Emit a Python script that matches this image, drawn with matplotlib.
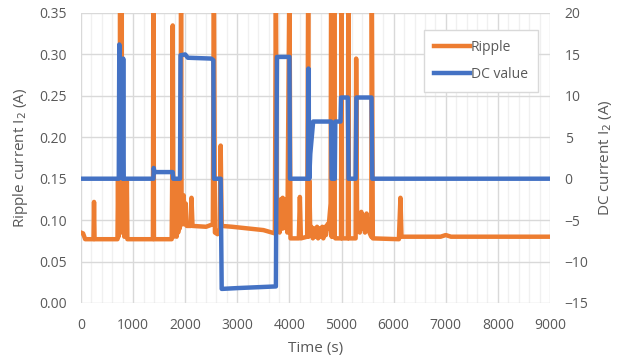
# Ripple current and DC current vs time (two y axes)

import matplotlib
matplotlib.use("Agg")
import matplotlib.pyplot as plt
from matplotlib.ticker import MultipleLocator

plt.rcParams['font.family'] = ['Open Sans', 'DejaVu Sans']

# ripple current I2 (A), breakpoints
# spikes that leave the chart are given 0.40 (clipped at 0.35)
ripple_t = [
    0, 40, 80, 240, 250, 260, 700, 710, 720, 730,
    740, 750, 760, 770, 780, 790, 800, 810, 820, 830,
    840, 850, 860, 870, 880, 890, 1380, 1390, 1400, 1740,
    1750, 1760, 1770, 1780, 1790, 1800, 1820, 1835, 1850, 1865,
    1880, 1895, 1910, 1920, 1930, 1950, 1970, 1990, 2010, 2030,
    2110, 2120, 2140, 2400, 2530, 2550, 2570, 2620, 2660, 2680,
    2700, 2900, 3200, 3500, 3720, 3740, 3760, 3790, 3810, 3830,
    3850, 3870, 3880, 3920, 3960, 4000, 4020, 4180, 4200, 4220,
    4340, 4360, 4370, 4380, 4400, 4420, 4450, 4480, 4500, 4530,
    4550, 4580, 4600, 4630, 4650, 4680, 4700, 4730, 4750, 4790,
    4800, 4810, 4820, 4830, 4840, 4850, 4860, 4870, 4880, 4990,
    5000, 5010, 5120, 5130, 5140, 5270, 5280, 5300, 5330, 5350,
    5380, 5400, 5430, 5450, 5480, 5500, 5570, 5580, 5600, 6100,
    6130, 6150, 6900, 7000, 7100, 9000,
]
ripple_v = [
    0.085, 0.084, 0.077, 0.077, 0.122, 0.077, 0.077, 0.148, 0.080, 0.148,
    0.085, 0.40, 0.090, 0.148, 0.40, 0.085, 0.148, 0.090, 0.148, 0.080,
    0.148, 0.090, 0.148, 0.080, 0.148, 0.077, 0.077, 0.40, 0.077, 0.077,
    0.148, 0.335, 0.150, 0.080, 0.148, 0.085, 0.148, 0.080, 0.148, 0.085,
    0.148, 0.090, 0.100, 0.40, 0.120, 0.095, 0.130, 0.095, 0.120, 0.093,
    0.093, 0.127, 0.093, 0.092, 0.095, 0.40, 0.085, 0.083, 0.090, 0.190,
    0.093, 0.092, 0.090, 0.088, 0.084, 0.40, 0.090, 0.110, 0.085, 0.125,
    0.090, 0.127, 0.090, 0.125, 0.085, 0.40, 0.078, 0.078, 0.128, 0.078,
    0.080, 0.40, 0.080, 0.148, 0.085, 0.092, 0.078, 0.090, 0.080, 0.092,
    0.078, 0.090, 0.080, 0.092, 0.078, 0.092, 0.082, 0.095, 0.090, 0.120,
    0.40, 0.080, 0.40, 0.080, 0.40, 0.080, 0.40, 0.080, 0.078, 0.078,
    0.40, 0.078, 0.078, 0.40, 0.078, 0.078, 0.295, 0.090, 0.108, 0.085,
    0.110, 0.090, 0.105, 0.085, 0.108, 0.090, 0.080, 0.40, 0.078, 0.077,
    0.127, 0.080, 0.080, 0.082, 0.080, 0.080,
]

# DC current I2 (A)
dc_t = [
    0, 725, 735, 745, 800, 810, 820, 1390, 1395, 1410,
    1760, 1770, 1900, 1910, 2000, 2050, 2500, 2540, 2550, 2680,
    2700, 3000, 3740, 3760, 4000, 4010, 4355, 4365, 4380, 4400,
    4455, 4800, 4810, 4870, 4880, 4980, 4990, 5120, 5135, 5270,
    5285, 5575, 5590, 9000,
]
dc_v = [
    0, 0, 16.2, 0.5, 0, 14.5, 0, 0, 1.3, 0.8,
    0.8, 0, 0, 14.9, 15.0, 14.6, 14.5, 14.3, 0, 0,
    -13.3, -13.2, -13.0, 14.7, 14.7, 0, 0, 13.3, 0, 3.0,
    6.9, 6.9, 0, 0, 6.9, 6.9, 9.8, 9.8, 0, 0,
    9.8, 9.8, 0, 0,
]

orange = '#ED7D31'
blue = '#4472C4'
txt = '#595959'

fig = plt.figure(figsize=(6.33, 3.63), dpi=100)
ax = fig.add_axes([81 / 633, 60 / 363, 469 / 633, 290 / 363])
ax2 = ax.twinx()

l1, = ax.plot(ripple_t, ripple_v, color=orange, lw=3.2, label='Ripple')
l2, = ax2.plot(dc_t, dc_v, color=blue, lw=3.2, label='DC value')

ax.set_xlim(0, 9000)
ax.set_ylim(0, 0.35)
ax2.set_ylim(-15, 20)
ax.xaxis.set_major_locator(MultipleLocator(1000))
ax.xaxis.set_minor_locator(MultipleLocator(200))
ax.yaxis.set_major_locator(MultipleLocator(0.05))
ax2.yaxis.set_major_locator(MultipleLocator(5))
ax.yaxis.set_major_formatter(lambda v, p: f'{v:.2f}')

# gridlines like the spreadsheet chart
ax.grid(True, which='major', color='#D9D9D9', lw=1)
ax.grid(True, which='minor', axis='x', color='#F0F0F0', lw=1)
ax.set_axisbelow(True)
for a in (ax, ax2):
    for s in a.spines.values():
        s.set_visible(False)
    a.tick_params(which='both', length=0, labelsize=10, labelcolor=txt, pad=10.5)

ax.set_xlabel('Time (s)', fontsize=11, color=txt, labelpad=6)
ax.set_ylabel('Ripple current I$_2$ (A)', fontsize=11, color=txt, labelpad=6)
ax2.set_ylabel('DC current I$_2$ (A)', fontsize=11, color=txt, labelpad=6)

leg = ax2.legend(handles=[l1, l2], loc='upper right', bbox_to_anchor=(0.974, 0.941),
                 borderaxespad=0, fontsize=10, frameon=True, fancybox=False,
                 framealpha=1, edgecolor='#D9D9D9', handlelength=2.6,
                 handletextpad=0.1, labelspacing=0.9, borderpad=0.7)
for t in leg.get_texts():
    t.set_color(txt)

plt.savefig('out.png', dpi=100)
